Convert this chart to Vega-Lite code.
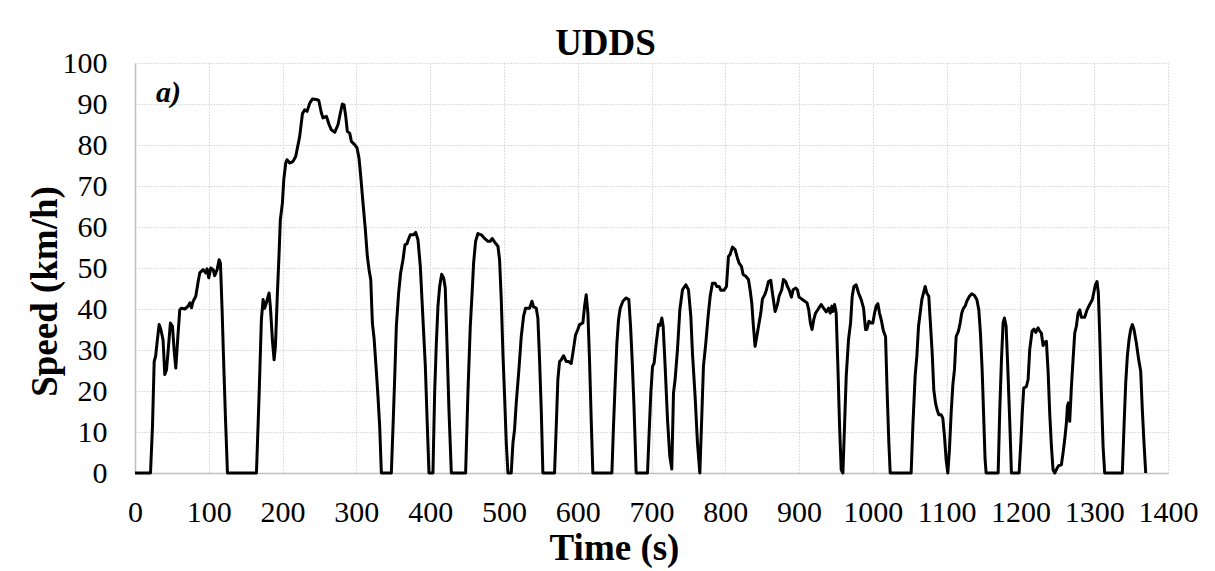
{
"$schema": "https://vega.github.io/schema/vega-lite/v6.json",
"width": 1033, "height": 410,
"autosize": {"type": "none"},
"padding": {"left": 135, "top": 63, "right": 47, "bottom": 98},
"background": "white",
"title": {"text": "UDDS", "font": "Liberation Serif", "fontSize": 37, "fontWeight": "bold", "color": "black", "anchor": "middle", "frame": "group", "baseline": "alphabetic", "offset": 7, "dx": -46, "dy": 51},
"config": {"view": {"stroke": null}, "font": "Liberation Serif"},
"layer": [
{"data": {"values": [
{"t":0,"v":0},{"t":21,"v":0},{"t":23.7,"v":11.4},{"t":26,"v":27.2},{"t":28,"v":28.5},{"t":30,"v":32},{"t":32.7,"v":36.2},{"t":35,"v":35},{"t":38,"v":32.5},{"t":40.4,"v":24},{"t":42.7,"v":25.2},{"t":45,"v":30},{"t":48,"v":36.6},{"t":50.8,"v":35.8},{"t":53,"v":30},{"t":55.3,"v":25.6},{"t":58,"v":33},{"t":60.7,"v":39.8},{"t":63,"v":40.2},{"t":67.5,"v":40},{"t":72,"v":40.7},{"t":74.3,"v":41.5},{"t":76.5,"v":40.3},{"t":78.8,"v":41.9},{"t":82.4,"v":43.1},{"t":85.6,"v":46.7},{"t":87.8,"v":48.8},{"t":92.3,"v":49.6},{"t":96,"v":48.8},{"t":97.7,"v":49.8},{"t":100,"v":47.6},{"t":102.7,"v":50},{"t":105.9,"v":49.6},{"t":108,"v":48.1},{"t":111.3,"v":49.6},{"t":114,"v":52},{"t":115.8,"v":51.2},{"t":118,"v":40},{"t":120,"v":28},{"t":122.5,"v":14},{"t":125.3,"v":0},
{"t":164.6,"v":0},{"t":168,"v":18},{"t":171.3,"v":37.4},{"t":173.6,"v":42.3},{"t":175.8,"v":40.2},{"t":178,"v":41.5},{"t":181.7,"v":43.9},{"t":183.5,"v":40.5},{"t":186.2,"v":32.5},{"t":188.5,"v":27.6},{"t":190.3,"v":30.9},{"t":193,"v":43.9},{"t":195.3,"v":53.7},{"t":197,"v":61.8},{"t":199.8,"v":65.9},{"t":201.6,"v":71.5},{"t":204.3,"v":75.6},{"t":206,"v":76.4},{"t":209.7,"v":75.6},{"t":214.2,"v":76},{"t":217.8,"v":77.2},{"t":221,"v":80.1},{"t":223.2,"v":82.1},{"t":226.9,"v":87.6},{"t":230,"v":88.6},{"t":233.2,"v":88.2},{"t":236.8,"v":90.2},{"t":240.4,"v":91.2},{"t":245.8,"v":91.1},{"t":249,"v":90.9},{"t":252.6,"v":87.8},{"t":254.9,"v":86.6},{"t":259.4,"v":87},{"t":263,"v":85},{"t":266.1,"v":83.7},{"t":270.7,"v":83.1},{"t":275.2,"v":85},{"t":278.3,"v":87.8},{"t":281,"v":90},{"t":283.3,"v":89.8},{"t":285.6,"v":87},{"t":287.8,"v":83.3},{"t":291,"v":82.9},{"t":293.2,"v":80.9},{"t":297.7,"v":80.1},{"t":300.9,"v":79.3},{"t":303.6,"v":76.8},{"t":305.9,"v":72.4},{"t":309,"v":65.9},{"t":312.2,"v":59.3},{"t":314.9,"v":52.8},{"t":317.2,"v":49.6},{"t":319.5,"v":47.2},{"t":321.7,"v":36.6},{"t":324,"v":32.9},{"t":327.1,"v":24.8},{"t":329.3,"v":18.7},{"t":331.6,"v":11.4},{"t":333.9,"v":0},
{"t":347.4,"v":0},{"t":349.7,"v":11.4},{"t":351.9,"v":22.8},{"t":354.2,"v":35.8},{"t":357.3,"v":43.9},{"t":360,"v":48.8},{"t":363.2,"v":52},{"t":365.9,"v":55.7},{"t":368.6,"v":55.9},{"t":370.4,"v":56.9},{"t":373.1,"v":58.1},{"t":377.7,"v":58.1},{"t":380.4,"v":58.7},{"t":383.5,"v":56.9},{"t":386.7,"v":50.4},{"t":390.3,"v":37.4},{"t":393.5,"v":26},{"t":396.2,"v":11.4},{"t":398.4,"v":0},
{"t":403.8,"v":0},{"t":406.1,"v":19.5},{"t":408.4,"v":31.7},{"t":410.6,"v":40.7},{"t":412.9,"v":45.5},{"t":415.6,"v":48.5},{"t":418.3,"v":47.6},{"t":420.5,"v":45.1},{"t":422.8,"v":31.7},{"t":425.5,"v":15.4},{"t":428.7,"v":0},
{"t":448.1,"v":0},{"t":451.2,"v":19.5},{"t":454.4,"v":35.8},{"t":457.1,"v":44.7},{"t":458.9,"v":51.2},{"t":461.6,"v":56.5},{"t":464.8,"v":58.4},{"t":469.3,"v":58.1},{"t":473.8,"v":57.2},{"t":478.3,"v":56.5},{"t":481.5,"v":56.5},{"t":484.2,"v":57.2},{"t":487.4,"v":56.3},{"t":491.9,"v":55.3},{"t":494.1,"v":52},{"t":496.4,"v":42.3},{"t":498.6,"v":29.3},{"t":500.9,"v":18.7},{"t":503.2,"v":7.3},{"t":505.4,"v":0},
{"t":509.9,"v":0},{"t":512.2,"v":7.3},{"t":514.4,"v":10.6},{"t":516.7,"v":17.1},{"t":520.3,"v":25.2},{"t":523.5,"v":33.3},{"t":526.6,"v":38.2},{"t":529.3,"v":40.2},{"t":534.8,"v":40.2},{"t":537.9,"v":41.9},{"t":540.2,"v":40.5},{"t":543.8,"v":40.2},{"t":546,"v":37.8},{"t":548.3,"v":27.6},{"t":550.6,"v":15.4},{"t":552.8,"v":0},
{"t":568.6,"v":0},{"t":570.9,"v":11.4},{"t":573.1,"v":22.8},{"t":575.4,"v":27.2},{"t":577.7,"v":27.6},{"t":580.8,"v":28.6},{"t":584.4,"v":27.2},{"t":587.6,"v":27.2},{"t":591.2,"v":26.7},{"t":593.5,"v":29.3},{"t":597.1,"v":33.7},{"t":600.2,"v":35},{"t":602.5,"v":36.2},{"t":607,"v":36.6},{"t":609.3,"v":40.7},{"t":611.5,"v":43.5},{"t":613.8,"v":39},{"t":616,"v":27.6},{"t":618.3,"v":13},{"t":620.5,"v":0},
{"t":646.3,"v":0},{"t":648.5,"v":11.4},{"t":650.8,"v":22},{"t":653.1,"v":31.7},{"t":655.3,"v":37.4},{"t":657.6,"v":40.2},{"t":661.2,"v":41.9},{"t":665.7,"v":42.7},{"t":669.3,"v":42.3},{"t":671.6,"v":35.8},{"t":673.8,"v":27.6},{"t":676.1,"v":17.1},{"t":679.2,"v":0},
{"t":694.6,"v":0},{"t":696.8,"v":9.8},{"t":699.1,"v":19.5},{"t":701.4,"v":26},{"t":703.6,"v":26.8},{"t":705.9,"v":30.9},{"t":709.5,"v":36.2},{"t":711.7,"v":36},{"t":714,"v":37.8},{"t":715.8,"v":35.8},{"t":718.5,"v":26},{"t":721.7,"v":13},{"t":724.8,"v":4.1},{"t":727.5,"v":1},{"t":729.8,"v":19.5},{"t":732,"v":22.8},{"t":735.2,"v":30.1},{"t":738.4,"v":39.8},{"t":742,"v":44.7},{"t":746.5,"v":45.9},{"t":750.1,"v":44.7},{"t":753.3,"v":38.2},{"t":755.5,"v":29.3},{"t":759.1,"v":18.7},{"t":762.3,"v":7.3},{"t":765.5,"v":0},{"t":767.7,"v":11.4},{"t":770.4,"v":26},{"t":773.6,"v":31.7},{"t":776.7,"v":38.2},{"t":779.5,"v":43.1},{"t":782.6,"v":46.3},{"t":786.2,"v":46.3},{"t":788.5,"v":45.5},{"t":791.6,"v":45.5},{"t":793.9,"v":44.6},{"t":798.4,"v":44.6},{"t":801.6,"v":45.5},{"t":804.3,"v":52.8},{"t":806.5,"v":53.3},{"t":809.7,"v":55.1},{"t":813.3,"v":54.5},{"t":816.5,"v":52.4},{"t":818.7,"v":51.2},{"t":821.9,"v":50.4},{"t":824.2,"v":48.4},{"t":827.8,"v":48},{"t":831.4,"v":47.2},{"t":833.6,"v":44.7},{"t":835.9,"v":41.5},{"t":838.1,"v":35.8},{"t":840.4,"v":30.9},{"t":842.7,"v":33.3},{"t":845.8,"v":36.6},{"t":848.1,"v":39},{"t":850.3,"v":42.4},{"t":853.5,"v":43.5},{"t":855.8,"v":44.7},{"t":858.5,"v":46.7},{"t":861.6,"v":47},{"t":863.9,"v":43.9},{"t":867.5,"v":39.4},{"t":870.7,"v":41.1},{"t":872.9,"v":43.1},{"t":876.5,"v":44.7},{"t":878.8,"v":47.2},{"t":881.9,"v":46.7},{"t":884.2,"v":45.5},{"t":886.5,"v":44.7},{"t":889.6,"v":42.9},{"t":891.9,"v":44.7},{"t":895.5,"v":45.1},{"t":897.7,"v":44.7},{"t":900,"v":42.9},{"t":904.5,"v":42.3},{"t":907.7,"v":41.9},{"t":910.8,"v":41.5},{"t":913.1,"v":39.8},{"t":915.3,"v":36.6},{"t":917.6,"v":35},{"t":919.9,"v":37.4},{"t":922.1,"v":38.9},{"t":926.6,"v":40.2},{"t":930,"v":41.1},{"t":933.2,"v":40.2},{"t":936.8,"v":39.3},{"t":940,"v":40.2},{"t":942.2,"v":39},{"t":944.5,"v":40.7},{"t":945.8,"v":39.4},{"t":948.1,"v":41.1},{"t":950.3,"v":39},{"t":952.6,"v":26},{"t":954.9,"v":11.4},{"t":957.1,"v":0.8},{"t":959.4,"v":0},{"t":961.6,"v":11.4},{"t":963.9,"v":23.6},{"t":967,"v":32.5},{"t":969.8,"v":36.6},{"t":972,"v":43.1},{"t":974.3,"v":45.5},{"t":977.4,"v":45.9},{"t":980.6,"v":43.9},{"t":984.2,"v":42.3},{"t":987.4,"v":40.2},{"t":990.1,"v":35},{"t":991.9,"v":35},{"t":994.6,"v":37},{"t":997.7,"v":36.6},{"t":1000,"v":36.6},{"t":1002.3,"v":39},{"t":1004.5,"v":40.7},{"t":1006.8,"v":41.3},{"t":1009,"v":39},{"t":1011.3,"v":37.4},{"t":1014.4,"v":34.6},{"t":1017.2,"v":33.3},{"t":1019.4,"v":19.5},{"t":1021.7,"v":7.3},{"t":1023.5,"v":0},
{"t":1051.9,"v":0},{"t":1054.2,"v":11.4},{"t":1057.3,"v":23.6},{"t":1059.6,"v":28.5},{"t":1061.9,"v":35.8},{"t":1064.1,"v":39},{"t":1066.4,"v":42.3},{"t":1068.6,"v":43.9},{"t":1070.9,"v":45.5},{"t":1073.1,"v":43.9},{"t":1075.8,"v":43.1},{"t":1077.7,"v":37.4},{"t":1080.4,"v":29.3},{"t":1082.6,"v":20.3},{"t":1084.9,"v":17.1},{"t":1087.1,"v":15.4},{"t":1089.4,"v":14.2},{"t":1092.6,"v":14.2},{"t":1094.8,"v":13.4},{"t":1097.1,"v":8.9},{"t":1099.3,"v":3.3},{"t":1101.6,"v":0},{"t":1103.8,"v":5.7},{"t":1106.1,"v":14.6},{"t":1108.4,"v":21.5},{"t":1110.6,"v":25.2},{"t":1112.9,"v":33.3},{"t":1116,"v":34.6},{"t":1118.3,"v":36.6},{"t":1120.5,"v":39},{"t":1122.8,"v":40.2},{"t":1125.1,"v":40.7},{"t":1127.3,"v":41.9},{"t":1130.9,"v":43.1},{"t":1134.1,"v":43.7},{"t":1137.7,"v":43.3},{"t":1140.9,"v":42.3},{"t":1143.6,"v":39.8},{"t":1145.8,"v":34.1},{"t":1148.1,"v":25.2},{"t":1149.9,"v":15.4},{"t":1152.1,"v":3.3},{"t":1153.5,"v":0},
{"t":1169.8,"v":0},{"t":1172,"v":15.4},{"t":1174.3,"v":27.6},{"t":1176.5,"v":36.6},{"t":1178.3,"v":37.8},{"t":1180.6,"v":35.8},{"t":1182.8,"v":26},{"t":1185.6,"v":12.2},{"t":1187.8,"v":0},
{"t":1198.2,"v":0},{"t":1200.5,"v":7.3},{"t":1202.7,"v":15.4},{"t":1204.5,"v":20.7},{"t":1208.1,"v":21.1},{"t":1210.4,"v":22.8},{"t":1212.6,"v":30.1},{"t":1215.8,"v":34.6},{"t":1218.5,"v":35.1},{"t":1220.8,"v":34.3},{"t":1223.9,"v":35.4},{"t":1226.2,"v":34.6},{"t":1228.4,"v":34.1},{"t":1230.7,"v":31.1},{"t":1233,"v":31.9},{"t":1235.2,"v":32.1},{"t":1237.5,"v":24.8},{"t":1239.7,"v":14.6},{"t":1242,"v":6.5},{"t":1244.2,"v":0.8},{"t":1246.5,"v":0},{"t":1249.7,"v":1.2},{"t":1251.9,"v":1.8},{"t":1255.5,"v":2},{"t":1257.8,"v":4.9},{"t":1260,"v":8.1},{"t":1262.3,"v":12.2},{"t":1263.7,"v":16.3},{"t":1265,"v":17.1},{"t":1266.8,"v":12.6},{"t":1269.1,"v":21.1},{"t":1271.3,"v":27.6},{"t":1273.6,"v":34.1},{"t":1275.8,"v":35.8},{"t":1278.1,"v":39},{"t":1280.4,"v":39.8},{"t":1282.6,"v":38},{"t":1287.1,"v":38},{"t":1290.3,"v":39.8},{"t":1293.9,"v":41.1},{"t":1297.5,"v":42.3},{"t":1299.3,"v":43.9},{"t":1301.6,"v":45.9},{"t":1303.8,"v":46.7},{"t":1305.6,"v":43.9},{"t":1307.4,"v":34.1},{"t":1309.7,"v":19.5},{"t":1312,"v":6.5},{"t":1314.2,"v":0},
{"t":1338.1,"v":0},{"t":1340.4,"v":11.4},{"t":1342.7,"v":22},{"t":1344.9,"v":28.5},{"t":1347.2,"v":32.5},{"t":1349.4,"v":35},{"t":1351.7,"v":36.2},{"t":1353.9,"v":35},{"t":1357.1,"v":31.7},{"t":1360.3,"v":27.6},{"t":1363,"v":24.8},{"t":1365.2,"v":15.4},{"t":1367.5,"v":7.3},{"t":1369.8,"v":0}
]},
"mark": {"type": "line", "color": "black", "strokeWidth": 3, "strokeJoin": "round", "interpolate": "linear"},
"encoding": {
"x": {"field": "t", "type": "quantitative", "scale": {"domain": [0, 1400], "nice": false},
"axis": {"values": [0,100,200,300,400,500,600,700,800,900,1000,1100,1200,1300,1400], "format": "d", "title": "Time (s)", "titleFont": "Liberation Serif", "titleFontSize": 37, "titleFontWeight": "bold", "titleColor": "black", "titleX": 479, "titleY": 86, "titleBaseline": "alphabetic", "titleAlign": "center", "labelFont": "Liberation Serif", "labelFontSize": 30, "labelColor": "black", "labelPadding": 24, "labelFlush": false, "labelOverlap": false, "ticks": false, "domainColor": "#bfbfbf", "domainWidth": 1.5, "gridColor": "#d4d4d4", "gridDash": [1.5, 1.5], "gridWidth": 1}},
"y": {"field": "v", "type": "quantitative", "scale": {"domain": [0, 100], "nice": false},
"axis": {"values": [0,10,20,30,40,50,60,70,80,90,100], "format": "d", "title": "Speed (km/h)", "titleFont": "Liberation Serif", "titleFontSize": 37, "titleFontWeight": "bold", "titleColor": "black", "titleAngle": 270, "titleX": -90, "titleY": 228, "titleAlign": "center", "titleBaseline": "middle", "labelFont": "Liberation Serif", "labelFontSize": 30, "labelColor": "black", "labelPadding": 28, "labelFlush": false, "labelOverlap": false, "ticks": false, "domainColor": "#bfbfbf", "domainWidth": 1.5, "gridColor": "#d4d4d4", "gridDash": [1.5, 1.5], "gridWidth": 1}}
}},
{"data": {"values": [{"label": "a)"}]},
"mark": {"type": "text", "font": "Liberation Serif", "fontSize": 30, "fontWeight": "bold", "fontStyle": "italic", "align": "left", "baseline": "alphabetic", "color": "black"},
"encoding": {"x": {"datum": 28.5, "type": "quantitative"}, "y": {"datum": 90.5, "type": "quantitative"}, "text": {"field": "label"}}}
]
}
